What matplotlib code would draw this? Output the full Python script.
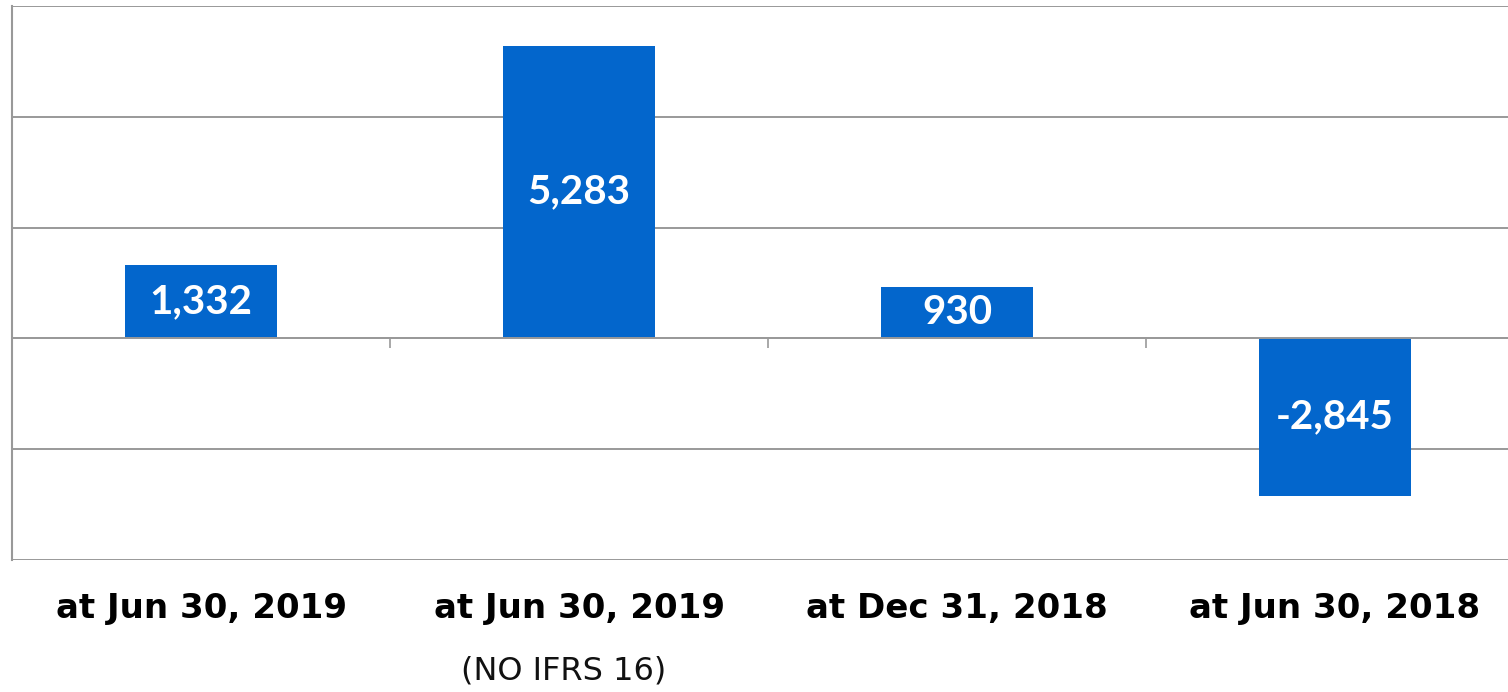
import matplotlib.pyplot as plt
import matplotlib.transforms as mtransforms
import numpy as np

categories = ['at Jun 30, 2019', 'at Jun 30, 2019', 'at Dec 31, 2018', 'at Jun 30, 2018']
subtitles = ['', '(NO IFRS 16)', '', '']
values = [1332, 5283, 930, -2845]
value_labels = ['1,332', '5,283', '930', '-2,845']

bar_color = '#0366CC'
grid_color = '#999999'

fig = plt.figure(figsize=(15.08, 6.92), dpi=100)
ax = fig.add_axes([12/1508, 132/692, 1512/1508, 554/692])

x = np.arange(len(values))
bars = ax.bar(x, values, width=0.4, color=bar_color, zorder=3)

ax.set_xlim(-0.5, len(values) - 0.5)
ax.set_ylim(-4000, 6000)
ax.set_yticks(np.arange(-4000, 6001, 2000))
ax.yaxis.grid(True, color=grid_color, linewidth=1.4, zorder=0)
ax.tick_params(axis='y', length=0, labelleft=False)

# x axis sits on zero, with ticks between the categories
ax.spines['bottom'].set_position(('data', 0))
ax.spines['bottom'].set_color(grid_color)
ax.spines['bottom'].set_linewidth(1.4)
ax.spines['bottom'].set_zorder(4)
ax.spines['left'].set_color(grid_color)
ax.spines['left'].set_linewidth(1.5)
ax.spines['top'].set_visible(False)
ax.spines['right'].set_visible(False)
ax.set_xticks(x)
ax.tick_params(axis='x', which='major', length=0, labelbottom=False)
ax.set_xticks(x[:-1] + 0.5, minor=True)
ax.tick_params(axis='x', which='minor', length=7.5, width=1.2, color=grid_color)

for b, lab in zip(bars, value_labels):
    ax.text(b.get_x() + b.get_width() / 2, b.get_height() / 2, lab,
            ha='center', va='center', color='white', fontsize=29,
            family='Lato', fontweight='bold', zorder=5)

trans = mtransforms.blended_transform_factory(ax.transData, ax.transAxes)
for xi, cat, sub in zip(x, categories, subtitles):
    ax.text(xi, -0.088, cat, transform=trans, ha='center', va='center',
            fontsize=24.5, family='DejaVu Sans', fontweight='bold', color='black')
    if sub:
        ax.text(xi - 0.04, -0.2, sub, transform=trans, ha='center', va='center',
                fontsize=23, family='DejaVu Sans', color='#111111')

fig.savefig('out.png', dpi=100)
